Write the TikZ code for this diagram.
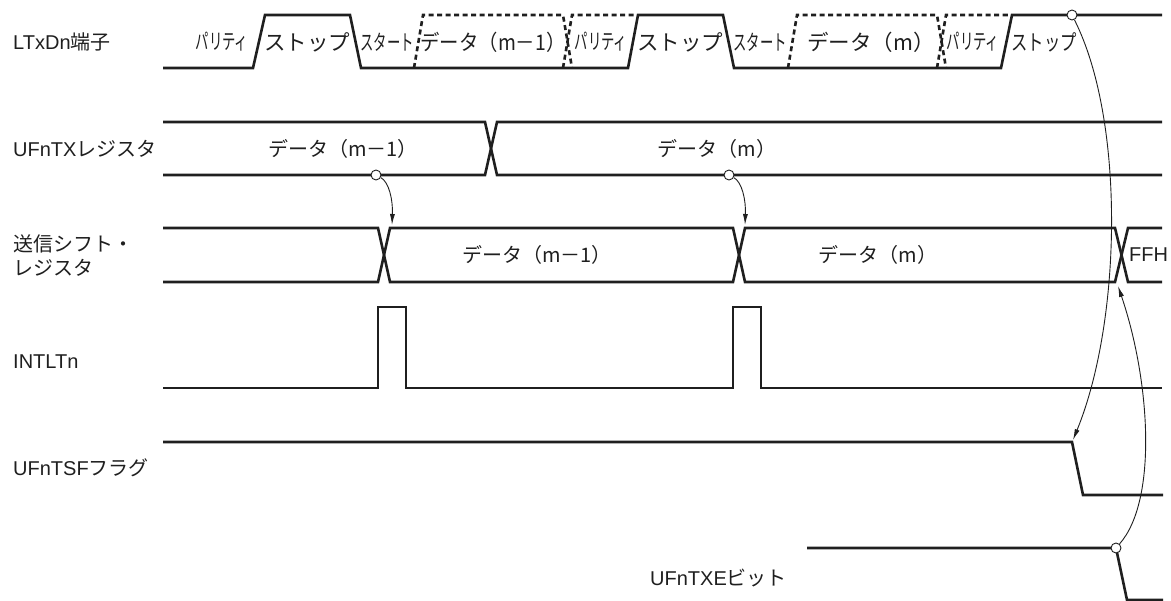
\documentclass[tikz,border=0pt]{standalone}
\usepackage{fontspec}
\setmainfont{Liberation Sans}
\newfontfamily\jp{Noto Sans CJK JP}
\usepackage{graphicx}
\usetikzlibrary{arrows.meta}
\tikzset{
    sig/.style={line width=2.6pt, draw=black!88, line join=miter},
    maybe/.style={sig, dash pattern=on 5pt off 3.5pt},
    lbl/.style={font=\fontsize{20}{24}\selectfont, text=black!88, anchor=west, align=left, inner sep=0pt},
    val/.style={font=\jp\fontsize{20}{24}\selectfont, text=black!88, inner sep=0pt},
    big/.style={val, font=\jp\fontsize{21.5}{24}\selectfont},
    ring/.style={circle, draw=black!88, line width=0.9pt, fill=white, inner sep=0pt, minimum size=10pt},
    cause/.style={-{Latex[length=11pt,width=5pt]}, line width=0.9pt, draw=black!88}
}
\newcommand{\narrow}[2][0.62]{\scalebox{#1}[1]{#2}}
\begin{document}
\begin{tikzpicture}[x=1pt, y=-1pt]
\useasboundingbox (0,0) rectangle (1171,601);

% signal names
\node[lbl] (nLTxD) at (13,42) {LTxDn{\jp 端子}};
\node[lbl] (nUFTX) at (13,149) {UFnTX{\jp レジスタ}};
\node[lbl] (nShift) at (13,256) {{\jp 送信シフト・}\\{\jp レジスタ}};
\node[lbl] (nINT) at (13,362) {INTLTn};
\node[lbl] (nTSF) at (13,468) {UFnTSF{\jp フラグ}};
\node[lbl] (nTXE) at (650,578) {UFnTXE{\jp ビット}};

% LTxDn pin
\draw[sig] (163,68) -- (253,68) -- (265,15) -- (350,15) -- (361,68) -- (628,68) -- (638,15)
    -- (723,15) -- (734,68) -- (1001,68) -- (1012,15) -- (1162,15);
\draw[maybe] (414,68) -- (423,15) -- (563,15) -- (572,68);
\draw[maybe] (563,68) -- (572,15) -- (634,15);
\draw[maybe] (788,68) -- (797,15) -- (937,15) -- (946,68);
\draw[maybe] (937,68) -- (946,15) -- (1008,15);
\node[big] (p1) at (222,42) {\narrow{パリティ}};
\node[big] (s1) at (307,42) {ストップ};
\node[big] (st1) at (387,42) {\narrow{スタート}};
\node[big] (d1) at (493,42) {\narrow[0.9]{データ（m－1）}};
\node[big] (p2) at (601,42) {\narrow{パリティ}};
\node[big] (s2) at (680,42) {ストップ};
\node[big] (st2) at (760,42) {\narrow{スタート}};
\node[big] (d2) at (871,42) {データ（m）};
\node[big] (p3) at (973,42) {\narrow{パリティ}};
\node[big] (s3) at (1044,42) {\narrow[0.76]{ストップ}};

% UFnTX register
\draw[sig] (163,122) -- (485,122) -- (497,175) -- (1162,175);
\draw[sig] (163,175) -- (485,175) -- (497,122) -- (1162,122);
\node[val] (u1) at (343,149) {データ（m－1）};
\node[val] (u2) at (717,149) {データ（m）};

% transmit shift register
\draw[sig] (163,228) -- (378,228) -- (390,282) -- (733,282) -- (745,228) -- (1115,228) -- (1128,282) -- (1162,282);
\draw[sig] (163,282) -- (378,282) -- (390,228) -- (733,228) -- (745,282) -- (1115,282) -- (1128,228) -- (1162,228);
\node[val] (sh1) at (537,255) {データ（m－1）};
\node[val] (sh2) at (878,255) {データ（m）};
\node[lbl] (sh3) at (1129,255) {FFH};

% INTLTn
\draw[sig] (163,388) -- (378,388) -- (378,307) -- (406,307) -- (406,388) -- (733,388)
    -- (733,307) -- (761,307) -- (761,388) -- (1162,388);

% UFnTSF flag
\draw[sig] (163,442) -- (1072,442) -- (1083,495) -- (1163,495);

% UFnTXE bit
\draw[sig] (807,548) -- (1116,548) -- (1127,600) -- (1163,600);

% causes
\coordinate (tTSF) at (1073,440);
\coordinate (tFFH) at (1118,286);
\coordinate (tX1) at (392,225);
\coordinate (tX2) at (745,225);
\node[ring] (rStop) at (1072,15) {};
\node[ring] (rU1) at (376,175) {};
\node[ring] (rU2) at (729,175) {};
\node[ring] (rTXE) at (1116,548) {};
\draw[cause] (rStop) .. controls (1125,120) and (1122,320) .. (tTSF);
\draw[cause] (rTXE) .. controls (1158,500) and (1150,380) .. (tFFH);
\draw[cause] (rU1) .. controls (389,182) and (393,200) .. (tX1);
\draw[cause] (rU2) .. controls (742,182) and (746,200) .. (tX2);
\end{tikzpicture}
\end{document}
